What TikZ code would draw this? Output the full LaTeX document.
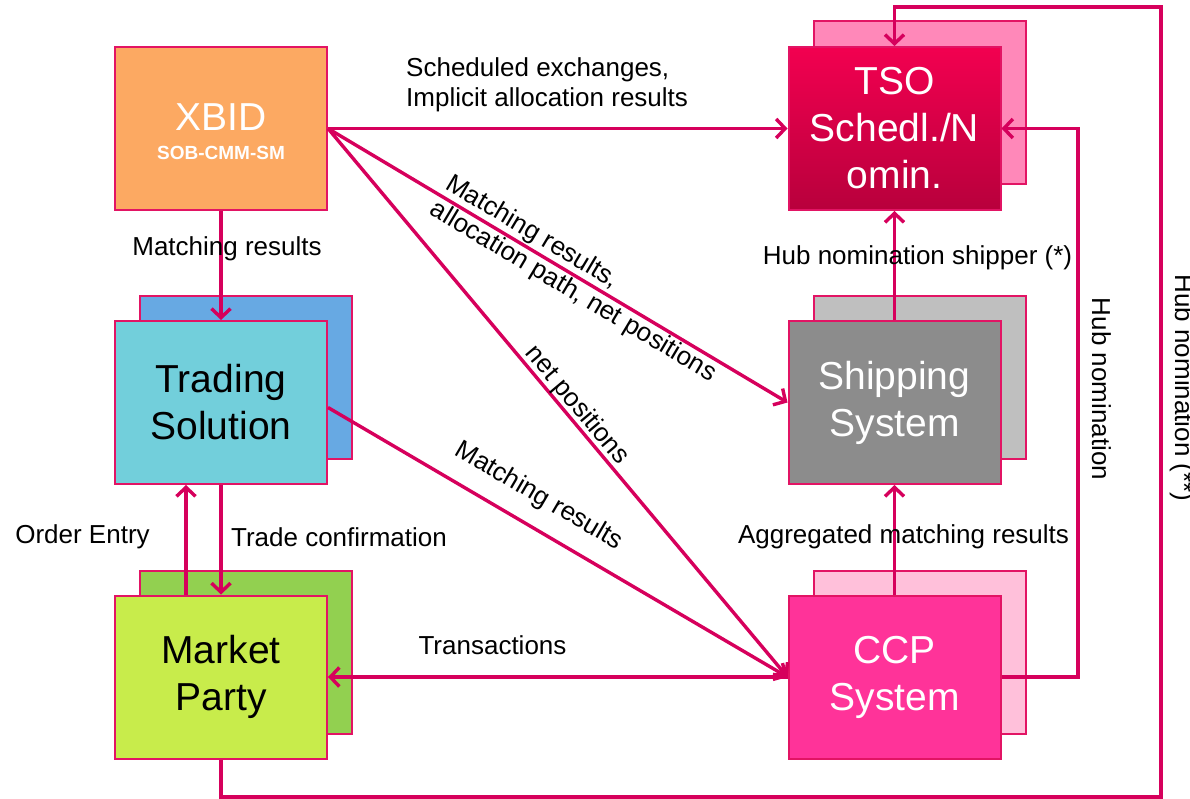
\documentclass[tikz,border=0pt]{standalone}
\usepackage{fontspec}
\setmainfont{Liberation Sans}
\usetikzlibrary{arrows.meta}
\definecolor{mag}{RGB}{214,0,92}
\definecolor{boxline}{RGB}{226,20,100}
\definecolor{xbidfill}{RGB}{252,169,98}
\definecolor{tsfront}{RGB}{114,207,219}
\definecolor{tsback}{RGB}{103,169,227}
\definecolor{mpfront}{RGB}{200,236,75}
\definecolor{mpback}{RGB}{146,208,80}
\definecolor{tsotop}{RGB}{242,0,80}
\definecolor{tsobot}{RGB}{184,0,60}
\definecolor{tsoback}{RGB}{255,136,185}
\definecolor{shipfront}{RGB}{140,140,140}
\definecolor{shipback}{RGB}{191,191,191}
\definecolor{ccpfront}{RGB}{255,51,153}
\definecolor{ccpback}{RGB}{255,192,218}
\newcommand\boxfont{\fontsize{39}{47}\selectfont}
\newcommand\labfont{\fontsize{26}{30}\selectfont}
\tikzset{
  box/.style={draw=boxline, line width=2pt, minimum width=212pt, minimum height=163pt,
    inner sep=0pt, align=center, font=\boxfont},
  conn/.style={draw=mag, line width=3.4pt, -{Straight Barb[length=9pt,width=19pt]}},
  lab/.style={font=\labfont, inner sep=0pt, text=black},
}
\begin{document}
\begin{tikzpicture}[x=1pt,y=-1pt]
\useasboundingbox (0,0) rectangle (1190,799);
% back boxes
\node[box, fill=tsback] (tsb) at (246,377.5) {};
\node[box, fill=mpback] (mpb) at (246,652) {};
\node[box, fill=tsoback] (tsob) at (919.5,103) {};
\node[box, fill=shipback] (shipb) at (919.5,377.5) {};
\node[box, fill=ccpback] (ccpb) at (919.5,652) {};
% front boxes
\node[box, fill=xbidfill, text=white] (xbid) at (221,128.5)
  {\\[-14pt]XBID\\[-18pt]{\fontsize{19}{22}\selectfont\bfseries SOB-CMM-SM}};
\node[box, fill=tsfront, text=black] (ts) at (221,402.5) {Trading\\Solution};
\node[box, fill=mpfront, text=black] (mp) at (221,677) {Market\\Party};
\node[box, top color=tsotop, bottom color=tsobot, text=white] (tso) at (894.5,128.5) {TSO\\Schedl./N\\omin.};
\node[box, fill=shipfront, text=white] (ship) at (894.5,402.5) {Shipping\\System};
\node[box, fill=ccpfront, text=white] (ccp) at (894.5,677) {CCP\\System};
% helper coordinates
\coordinate (hubx) at (1078,400);
\coordinate (rb) at (1161,797);
\coordinate (rt) at (1161,7);
% connectors
\draw[conn] (xbid.east) -- (tso.west);
\draw[conn] (xbid.east) -- (ship.west)
  node[lab, sloped, pos=0.55, align=left, anchor=center] {Matching results,\\allocation path, net positions};
\draw[conn] (xbid.east) -- (ccp.west)
  node[lab, sloped, pos=0.52, above=-1pt] {net positions};
\draw[conn] ([yshift=-5pt]ts.east) -- (ccp.west)
  node[lab, sloped, pos=0.425, above=16pt] {Matching results};
\draw[conn] (ccp.west) -- (mp.east);
\draw[conn] (xbid.south) -- (ts.north);
\draw[conn] ([xshift=-35pt]mp.north) -- ([xshift=-35pt]ts.south);
\draw[conn] (ts.south) -- (mp.north);
\draw[conn] (ship.north) -- (tso.south);
\draw[conn] (ccp.north) -- (ship.south);
\draw[conn] (ccp.east) -- (ccp.east -| hubx) -- (tso.east -| hubx) -- (tso.east);
\draw[conn] (mp.south) |- (rb) -- (rt) -| (tso.north);
% labels
\node[lab, align=left, anchor=north west] (l1) at (406,57) {Scheduled exchanges,\\Implicit allocation results};
\node[lab, anchor=base] (l2) at (227,256) {Matching results};
\node[lab, anchor=base] (l3) at (82.5,543) {Order Entry};
\node[lab, anchor=base] (l4) at (339,546) {Trade confirmation};
\node[lab, anchor=base] (l5) at (492.5,654) {Transactions};
\node[lab, anchor=base] (l6) at (917.5,265) {Hub nomination shipper (*)};
\node[lab, anchor=base] (l7) at (903.5,543) {Aggregated matching results};
\node[lab, anchor=base, rotate=-90] (l8) at (1092,389) {Hub nomination};
\node[lab, anchor=base, rotate=-90] (l9) at (1175,388) {Hub nomination (**)};
\end{tikzpicture}
\end{document}
